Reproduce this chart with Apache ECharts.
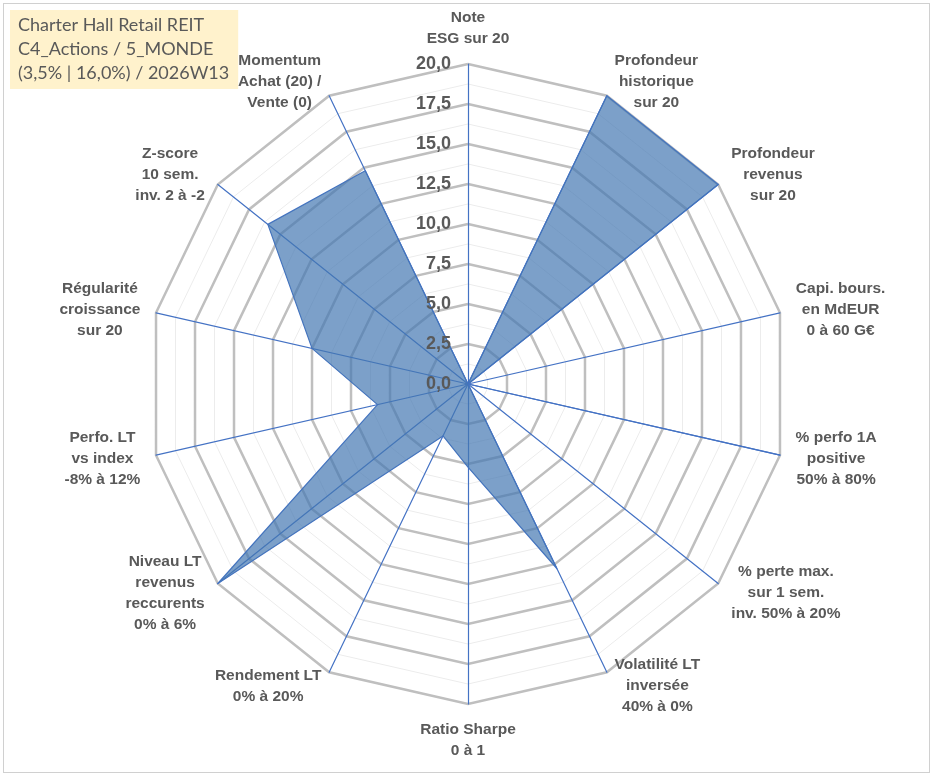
<!DOCTYPE html>
<html>
<head>
<meta charset="utf-8">
<script src="https://cdn.jsdelivr.net/npm/echarts@6/dist/echarts.min.js"></script>
<style>
    html, body { margin: 0; padding: 0; background: #fff; }
    #frame { position: absolute; left: 3px; top: 3px; width: 925px; height: 768px; border: 1px solid #d0d0d0; }
    #chart { position: absolute; left: 0; top: 0; width: 933px; height: 776px; }
</style>
</head>
<body>
<div id="frame"></div>
<div id="chart"></div>
<script>
// noms des axes, dans l'ordre horaire depuis le haut
const axisNames = [
    'Note\nESG sur 20',
    'Profondeur\nhistorique\nsur 20',
    'Profondeur\nrevenus\nsur 20',
    'Capi. bours.\nen MdEUR\n0 à 60 G€',
    '% perfo 1A\npositive\n50% à 80%',
    '% perte max.\nsur 1 sem.\ninv. 50% à 20%',
    'Volatilité LT\ninversée\n40% à 0%',
    'Ratio Sharpe\n0 à 1',
    'Rendement LT\n0% à 20%',
    'Niveau LT\nrevenus\nreccurents\n0% à 6%',
    'Perfo. LT\nvs index\n-8% à 12%',
    'Régularité\ncroissance\nsur 20',
    'Z-score\n10 sem.\ninv. 2 à -2',
    'Momentum\nAchat (20) /\nVente (0)'
];
// notes sur 20
const scores = [0, 20, 20, 0, 20, 0, 12.8, 5.2, 3.6, 20, 5.8, 10, 16, 14.8];
const scaleTicks = [0, 2.5, 5, 7.5, 10, 12.5, 15, 17.5, 20];
const titleLines = ['Charter Hall Retail REIT', 'C4_Actions / 5_MONDE', '(3,5% | 16,0%) / 2026W13'];

const center = [468, 384];
const radius = 320;
const maxVal = scaleTicks[scaleTicks.length - 1];

// echarts place les axes du radar dans le sens anti-horaire : on inverse
const order = [0];
for (let i = axisNames.length - 1; i > 0; i--) order.push(i);

// largeur des blocs de texte pour centrer chaque ligne
const ctx = document.createElement('canvas').getContext('2d');
ctx.font = 'bold 15.5px "Liberation Sans"';
const rich = {};
axisNames.forEach(function(n, i) {
    let w = 0;
    n.split('\n').forEach(function(l) { w = Math.max(w, ctx.measureText(l).width); });
    rich['w' + i] = { width: Math.ceil(w) + 2, align: 'center', fontSize: 15.5, fontWeight: 'bold',
        color: '#595959', fontFamily: 'Liberation Sans', lineHeight: 21 };
});

const chart = echarts.init(document.getElementById('chart'));
chart.setOption({
    animation: false,
    title: {
        text: titleLines.join('\n'),
        left: 10,
        top: 10,
        padding: [3, 9, 4, 8],
        backgroundColor: '#FFF2CC',
        textStyle: {
            fontFamily: 'Lato',
            fontWeight: 'normal',
            fontSize: 18,
            lineHeight: 24,
            color: '#595959'
        }
    },
    grid: {
        left: center[0],
        top: center[1] - radius,
        width: 1,
        height: radius
    },
    xAxis: { type: 'value', show: false },
    yAxis: {
        type: 'value',
        zlevel: 1,
        min: 0,
        max: maxVal,
        interval: 2.5,
        axisLine: { show: false },
        axisTick: { show: false },
        splitLine: { show: false },
        axisLabel: {
            margin: 17,
            fontFamily: 'Liberation Sans',
            fontWeight: 'bold',
            fontSize: 18,
            color: '#595959',
            formatter: function(v) { return v.toFixed(1).replace('.', ','); }
        }
    },
    radar: [{
        center: center,
        radius: radius,
        shape: 'polygon',
        splitNumber: 16,
        indicator: order.map(function(i) { return { name: '', max: maxVal }; }),
        axisName: { show: false },
        axisLine: { show: false },
        splitArea: { show: false },
        splitLine: { lineStyle: { color: '#ececec', width: 1 } }
    }, {
        center: center,
        radius: radius,
        shape: 'polygon',
        splitNumber: 8,
        nameGap: 15,
        indicator: order.map(function(i) { return { name: axisNames[i], max: maxVal }; }),
        axisName: {
            formatter: function(name) {
                const i = axisNames.indexOf(name);
                return name.split('\n').map(function(l) { return '{w' + i + '|' + l + '}'; }).join('\n');
            },
            rich: rich
        },
        axisLine: { lineStyle: { color: '#4472C4', width: 1.2 } },
        splitArea: { show: false },
        splitLine: { lineStyle: { color: '#bfbfbf', width: 2.5 } }
    }],
    series: [{
        type: 'radar',
        radarIndex: 1,
        symbol: 'none',
        lineStyle: { color: '#4472C4', width: 1.2 },
        areaStyle: {
            color: '#4577B2',
            opacity: 0.7
        },
        data: [{ value: order.map(function(i) { return scores[i]; }), name: 'Score' }]
    }]
});
</script>
</body>
</html>
